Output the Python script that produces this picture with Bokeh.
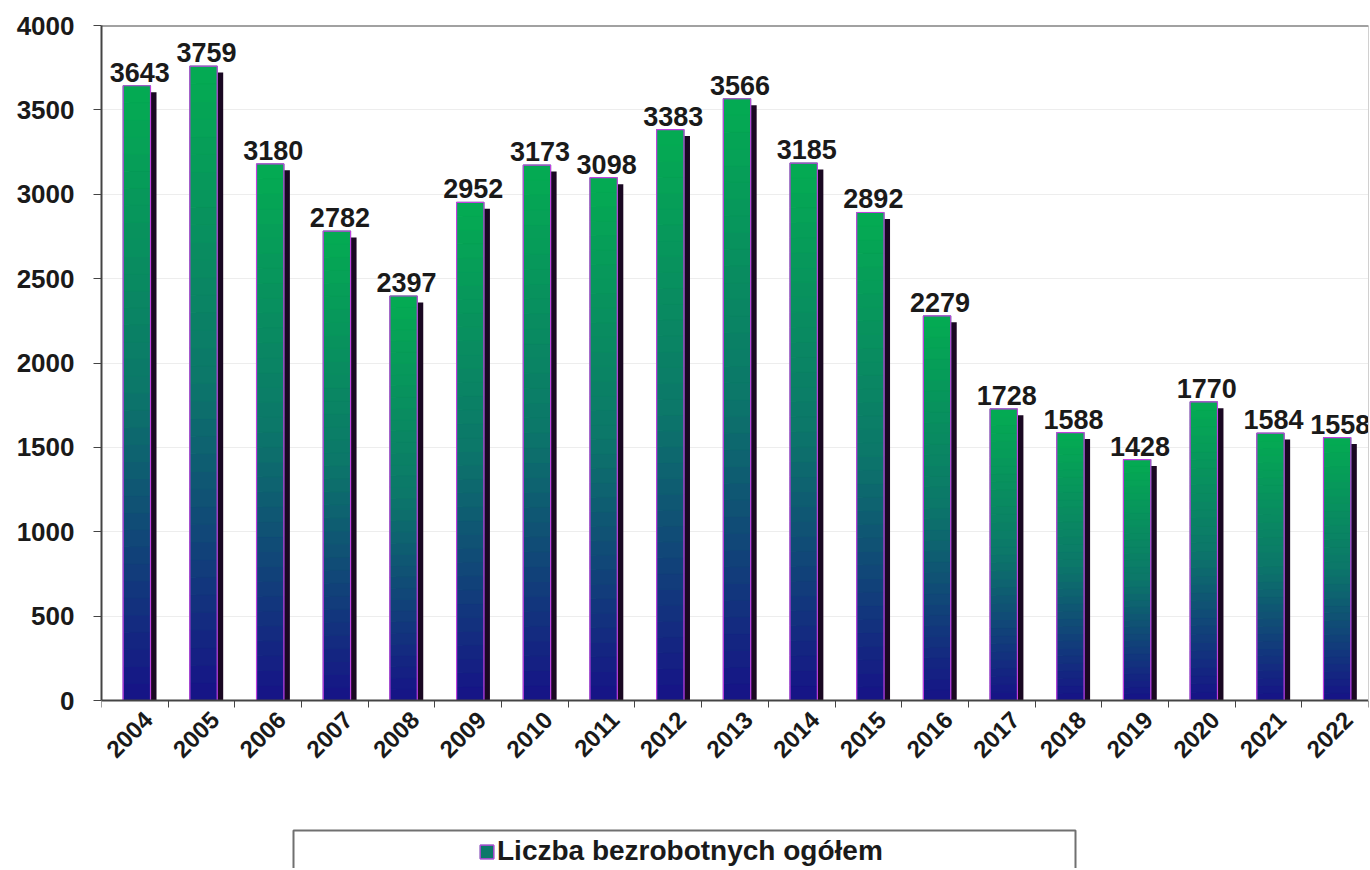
import math
from bokeh.plotting import figure
from bokeh.models import (ColumnDataSource, Range1d, FixedTicker, Legend, LegendItem, Span,
                          LinearAxis, BoxAnnotation)
from bokeh.core.properties import value
from bokeh.embed import file_html
from bokeh.resources import INLINE

# ---- data ----
years = ["2004", "2005", "2006", "2007", "2008", "2009", "2010", "2011", "2012", "2013",
         "2014", "2015", "2016", "2017", "2018", "2019", "2020", "2021", "2022"]
unemployed = [3643, 3759, 3180, 2782, 2397, 2952, 3173, 3098, 3383, 3566,
              3185, 2892, 2279, 1728, 1588, 1428, 1770, 1584, 1558]
y_ticks = [0, 500, 1000, 1500, 2000, 2500, 3000, 3500, 4000]
series_name = "Liczba bezrobotnych ogółem"

FONT = "Liberation Sans"

# ---- layout (pixels) ----
W, H = 1370, 868
LEFT, RIGHT_B, TOP = 101, 2, 25
ZERO_PX = 700       # pixel row of value 0
Y_MAX = 4000
n_cat = len(years)
frame_h = H - TOP
px_per_unit = (ZERO_PX - TOP) / Y_MAX
y_min = Y_MAX - frame_h / px_per_unit
px_per_cat = (W - LEFT - RIGHT_B) / n_cat

def px_to_x(px):
    return -0.5 + (px - LEFT) / px_per_cat

def px_to_y(py):
    return (ZERO_PX - py) / px_per_unit

# ---- style helpers ----
stops = [(0.0, (22, 18, 135)), (0.5, (12, 118, 106)), (1.0, (4, 172, 82))]

def grad(t):
    for (t0, c0), (t1, c1) in zip(stops[:-1], stops[1:]):
        if t <= t1:
            f = (t - t0) / (t1 - t0)
            return "#%02x%02x%02x" % tuple(int(round(a + (b - a) * f)) for a, b in zip(c0, c1))
    return "#%02x%02x%02x" % stops[-1][1]

N = 36              # gradient steps per bar
BAR_W = 0.41
BAR_DX = 0.03
SH_DX = 0.09
SH_DY = 38
LBL_DX = 0.2

idx = list(range(n_cat))

seg_x, seg_b, seg_t, seg_c = [], [], [], []
for i, v in zip(idx, unemployed):
    for k in range(N):
        seg_x.append(i + BAR_DX)
        seg_b.append(v * k / N)
        seg_t.append(v * (k + 1) / N)
        seg_c.append(grad((k + 0.5) / N))
seg_src = ColumnDataSource(dict(x=seg_x, bottom=seg_b, top=seg_t, color=seg_c))

bar_src = ColumnDataSource(dict(
    x=[i + BAR_DX for i in idx],
    xs=[i + BAR_DX + SH_DX for i in idx],
    top=unemployed,
    stop=[v - SH_DY for v in unemployed],
    label=[str(v) for v in unemployed],
))

p = figure(width=W, height=H, output_backend="svg", toolbar_location=None,
           x_range=Range1d(-0.5, n_cat - 0.5), y_range=Range1d(y_min, Y_MAX),
           min_border_left=LEFT, min_border_right=RIGHT_B, min_border_top=TOP, min_border_bottom=0,
           background_fill_color="white", border_fill_color="white")

p.outline_line_color = None

# shadow
p.vbar(x="xs", top="stop", bottom=0, width=BAR_W, source=bar_src,
       fill_color="#1a0822", line_color=None)
# gradient body
body = p.vbar(x="x", top="top", bottom="bottom", width=BAR_W, source=seg_src,
              fill_color="color", line_color="color", line_width=1)
# outline
outline = p.vbar(x="x", top="top", bottom=0, width=BAR_W, source=bar_src,
                 fill_color=None, line_color="#c040e0", line_width=1.2)

# data labels
p.text(x="x", y="top", text="label", source=bar_src,
       text_font=value(FONT), text_font_style="bold", text_font_size="27px",
       text_color="#1a1a1a", text_align="center", text_baseline="bottom",
       x_offset=3, y_offset=-4)

# top frame line
p.add_layout(Span(location=Y_MAX, dimension="width", line_color="#444444", line_width=2))

# x axis, pinned at value 0
label_ticks = [i + LBL_DX for i in idx]
xa = p.xaxis[0]
xa.fixed_location = 0
xa.ticker = FixedTicker(ticks=label_ticks, minor_ticks=[i - 0.5 for i in range(n_cat + 1)])
xa.major_label_overrides = {t: y for t, y in zip(label_ticks, years)}
xa.major_label_orientation = math.pi / 4
xa.major_tick_line_color = None
xa.minor_tick_line_color = "#444444"
xa.minor_tick_out = 7
xa.minor_tick_in = 0
xa.axis_line_color = "#444444"
xa.axis_line_width = 2
xa.major_label_standoff = 8
xa.major_label_text_font = FONT
xa.major_label_text_font_style = "bold"
xa.major_label_text_font_size = "24px"
xa.major_label_text_color = "#1a1a1a"

ya = p.yaxis[0]
ya.bounds = (0, Y_MAX)
ya.ticker = FixedTicker(ticks=y_ticks)
ya.minor_tick_line_color = None
ya.major_tick_line_color = "#444444"
ya.major_tick_out = 8
ya.major_tick_in = 0
ya.axis_line_color = "#444444"
ya.axis_line_width = 2
ya.major_label_standoff = 19
ya.major_label_text_font = FONT
ya.major_label_text_font_style = "bold"
ya.major_label_text_font_size = "26px"
ya.major_label_text_color = "#1a1a1a"

# light right edge of the plot area
ra = LinearAxis(bounds=(0, Y_MAX), ticker=FixedTicker(ticks=[]),
                axis_line_color="#d0d0d0", axis_line_width=1,
                major_tick_line_color=None, minor_tick_line_color=None,
                major_label_text_font_size="0px", major_label_standoff=0)
p.add_layout(ra, "right")

p.xgrid.grid_line_color = None
p.ygrid.ticker = FixedTicker(ticks=y_ticks)
p.ygrid.grid_line_color = "#ededed"
p.ygrid.grid_line_width = 1

# legend frame (wide box below the axis, bottom edge runs off the canvas)
box = BoxAnnotation(left=px_to_x(293), right=px_to_x(1075),
                    top=px_to_y(830), bottom=y_min - 500,
                    fill_color="white", fill_alpha=1.0,
                    line_color="#707070", line_width=2, line_alpha=1.0)
p.add_layout(box)

# legend content (swatch taken from the middle of the gradient)
legend = Legend(items=[LegendItem(label=series_name, renderers=[body, outline], index=N // 2)],
                location=(478 - LEFT, 1), orientation="vertical",
                padding=0, glyph_width=17, glyph_height=17,
                label_standoff=2, label_height=30,
                border_line_color=None, background_fill_alpha=0.0,
                label_text_font=FONT, label_text_font_style="bold",
                label_text_font_size="28px", label_text_color="#1a1a1a",
                margin=0, spacing=0)
p.add_layout(legend, "center")

open("out.html", "w").write(file_html(p, INLINE))
